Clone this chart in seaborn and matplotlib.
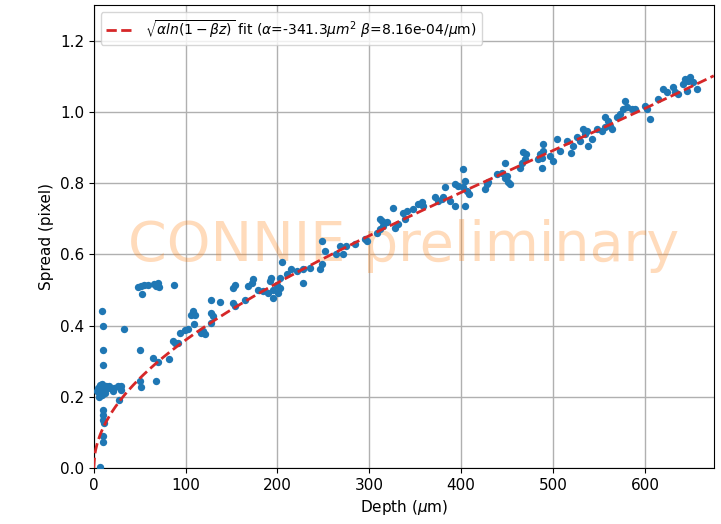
import numpy as np
import pandas as pd
import matplotlib
matplotlib.use("Agg")
import matplotlib.pyplot as plt
import seaborn as sns

# Datos: profundidad (um) y dispersion (pixel)
depth_um = [
    7, 4, 5, 6, 7, 8, 9, 10, 11, 12, 13, 6, 9,
    15, 17, 20.7, 22.5, 26, 29.7, 29.7, 28,
    9, 10, 10, 10, 10, 10, 10, 11, 10, 10,
    33,
    48, 51.6, 55, 58.8, 66, 68, 70, 71.5, 52.8, 87,
    50, 50, 51, 64, 68, 70, 82, 86, 88, 91.5, 93.7, 99, 102.7,
    106.4, 108.2, 109, 110, 117.3, 119, 121, 128, 128, 130, 128, 137,
    151.7, 153.6, 153.6, 151.7, 164.5, 168, 173.5, 171.8, 179, 184.4,
    190, 191.7, 193.5, 195.3, 194.7, 199, 202.6, 200.8, 204.5, 202.6,
    210, 215, 220.8, 228, 228, 235, 248, 248, 246, 251.6, 264, 271.6,
    268, 275, 284, 295, 297, 308, 311.5, 315, 311.5, 313.4, 319, 326,
    328, 331.5, 337, 340.6, 338.8, 347.8, 353.3, 357, 358.7, 371.5,
    375, 380.5, 378.8, 382, 387.8, 393, 393, 397, 402, 404, 402, 406,
    408, 404, 426, 427.7, 429.5, 438.7, 444, 447.7, 447.7, 449.5, 451.3,
    453, 464, 467.7, 469.5, 466, 471, 484, 485.8, 487.7, 489.4, 487.7,
    489.4, 496.7, 500.3, 504, 507.6, 515, 522, 520, 525.8, 529.4, 533,
    536.6, 535, 538.5, 542, 547.6, 553, 556.6, 556.6, 560, 562, 564,
    569.3, 573, 576.6, 580, 578.4, 585.6, 589.2, 600.2, 602, 605.7,
    614.7, 620, 623.8, 631, 632.9, 636.5, 642, 644, 647.4, 649, 652.8,
    645.6, 656.5,
]
spread_px = [
    0.003, 0.215, 0.225, 0.21, 0.232, 0.22, 0.205, 0.228, 0.218, 0.21, 0.23, 0.2, 0.235,
    0.225, 0.229, 0.215, 0.224, 0.229, 0.229, 0.22, 0.19,
    0.44, 0.40, 0.33, 0.29, 0.163, 0.149, 0.135, 0.126, 0.09, 0.072,
    0.39,
    0.508, 0.51, 0.515, 0.513, 0.518, 0.512, 0.52, 0.507, 0.49, 0.513,
    0.33, 0.243, 0.228, 0.31, 0.245, 0.297, 0.307, 0.356, 0.351, 0.35, 0.379, 0.387, 0.391,
    0.431, 0.44, 0.405, 0.431, 0.379, 0.384, 0.375, 0.473, 0.436, 0.426, 0.408, 0.466,
    0.464, 0.454, 0.515, 0.506, 0.473, 0.51, 0.53, 0.52, 0.501, 0.497,
    0.492, 0.525, 0.534, 0.501, 0.478, 0.515, 0.506, 0.492, 0.578, 0.535,
    0.544, 0.558, 0.553, 0.558, 0.52, 0.562, 0.637, 0.572, 0.56, 0.609, 0.6, 0.6,
    0.623, 0.623, 0.628, 0.642, 0.637, 0.661, 0.67, 0.68, 0.699, 0.694, 0.69, 0.731,
    0.675, 0.684, 0.717, 0.722, 0.699, 0.727, 0.741, 0.746, 0.736, 0.76,
    0.75, 0.76, 0.757, 0.788, 0.75, 0.736, 0.797, 0.792, 0.839, 0.806, 0.788, 0.778,
    0.769, 0.736, 0.783, 0.797, 0.802, 0.825, 0.83, 0.858, 0.816, 0.82, 0.802,
    0.797, 0.844, 0.887, 0.868, 0.858, 0.882, 0.868, 0.882, 0.872, 0.891, 0.844,
    0.91, 0.877, 0.863, 0.924, 0.891, 0.919, 0.905, 0.886, 0.929, 0.919, 0.952,
    0.947, 0.938, 0.905, 0.924, 0.952, 0.947, 0.957, 0.985, 0.976, 0.961, 0.952,
    0.985, 0.994, 1.008, 1.013, 1.032, 1.008, 1.008, 1.018, 1.008, 0.98,
    1.037, 1.065, 1.055, 1.069, 1.055, 1.051, 1.079, 1.093, 1.088, 1.098, 1.084,
    1.06, 1.065,
]

# Parametros del ajuste (leyenda)
fit_alpha = -341.3      # um^2
fit_beta = 8.16e-4      # 1/um
pixel_size = 15.0       # um por pixel

df = pd.DataFrame({"depth": depth_um, "spread": spread_px})

z = np.linspace(0, 675, 600)
fit_spread = np.sqrt(fit_alpha * np.log(1 - fit_beta * z)) / pixel_size
df_fit = pd.DataFrame({"depth": z, "spread": fit_spread})

fig, ax = plt.subplots(figsize=(7.21, 5.24), dpi=100)
fig.subplots_adjust(left=0.130, right=0.990, top=0.990, bottom=0.107)

sns.scatterplot(data=df, x="depth", y="spread", color="#1f77b4", s=28,
                linewidth=0, ax=ax, zorder=3)
sns.lineplot(data=df_fit, x="depth", y="spread", color="#d62728", linestyle="--",
             linewidth=2, ax=ax, zorder=4,
             label=r"$\sqrt{\alpha ln(1-\beta z)}$ fit ($\alpha$=-341.3$\mu m^2$ $\beta$=8.16e-04/$\mu$m)")

# Marca de agua
ax.text(0.5, 0.48, "CONNIE preliminary", transform=ax.transAxes,
        ha="center", va="center", fontsize=40, color="#ff7f0e", alpha=0.28,
        zorder=1)

ax.set_xlim(0, 675)
ax.set_ylim(0, 1.3)
ax.set_xticks([0, 100, 200, 300, 400, 500, 600])
ax.set_yticks([0.0, 0.2, 0.4, 0.6, 0.8, 1.0, 1.2])
ax.set_xlabel(r"Depth ($\mu$m)", fontsize=11)
ax.set_ylabel("Spread (pixel)", fontsize=11)
ax.tick_params(labelsize=11)
ax.grid(True, color="#b0b0b0", linewidth=1)
ax.set_axisbelow(True)
ax.legend(loc="upper left", fontsize=10)

plt.savefig("out.png", dpi=100)
plt.close()
